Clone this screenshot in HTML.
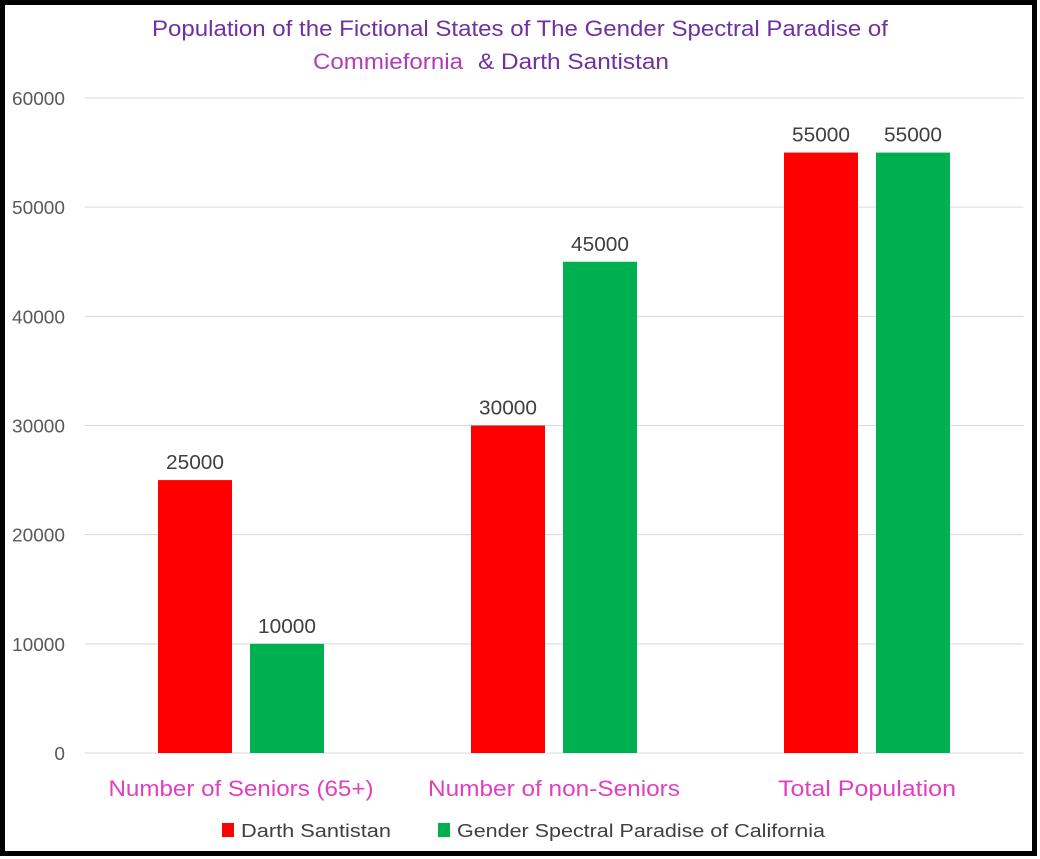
<!DOCTYPE html>
<html><head><meta charset="utf-8"><style>
html,body{margin:0;padding:0;background:#fff}
svg{display:block;font-family:"Liberation Sans",sans-serif}
</style></head><body>
<svg id="chart" width="1040" height="859" viewBox="0 0 1040 859">
<rect x="2.5" y="2.5" width="1032" height="851" fill="#fff" stroke="#000" stroke-width="5"/>
<text x="152" y="36" font-size="22" fill="#7030a0" textLength="736" lengthAdjust="spacingAndGlyphs">Population of the Fictional States of The Gender Spectral Paradise of</text>
<text x="313" y="69" font-size="22" fill="#b03cb8" textLength="150" lengthAdjust="spacingAndGlyphs">Commiefornia</text>
<text x="478" y="69" font-size="22" fill="#7030a0" textLength="191" lengthAdjust="spacingAndGlyphs">&amp; Darth Santistan</text>
<g id="grid"></g><g id="bars"></g><g id="labels"></g>
<g>
<rect x="222" y="823" width="12" height="14" fill="#ff0000"/>
<text x="241" y="837" font-size="18" fill="#404040" textLength="150" lengthAdjust="spacingAndGlyphs">Darth Santistan</text>
<rect x="438" y="823" width="12" height="14" fill="#00b050"/>
<text x="457" y="837" font-size="18" fill="#404040" textLength="368" lengthAdjust="spacingAndGlyphs">Gender Spectral Paradise of California</text>
</g>
</svg>
<script>
const categories=["Number of Seniors (65+)","Number of non-Seniors","Total Population"];
const darthValues=[25000,30000,55000];
const californiaValues=[10000,45000,55000];
const yTicks=[0,10000,20000,30000,40000,50000,60000];
const catLabelWidths=[265,252,178];
const NS="http://www.w3.org/2000/svg";
const x0=84.5,x1=1023.5,y0=753,yTop=98,yMax=60000;
const y=v=>y0-(v/yMax)*(y0-yTop);
const bw=(x1-x0)/categories.length;
const xc=i=>x0+bw*(i+0.5);
function mk(tag,attrs,parent,txt){const e=document.createElementNS(NS,tag);for(const k in attrs)e.setAttribute(k,attrs[k]);if(txt!==undefined)e.textContent=txt;parent.appendChild(e);return e;}
const grid=document.getElementById('grid'),bars=document.getElementById('bars'),labels=document.getElementById('labels');
yTicks.forEach(t=>{
 const l=mk('line',{x1:x0,x2:x1,y1:y(t),y2:y(t),stroke:'#d9d9d9','stroke-width':1},grid);
 
 
 const s=String(t);
 const w=s.length*10.6;
 const tx=mk('text',{x:65-w,y:y(t)+7,'font-size':18,fill:'#595959',textLength:w,lengthAdjust:'spacingAndGlyphs'},grid,s);
 
 
});
const series=[{vals:darthValues,color:'#ff0000',off:-83,name:'darth'},{vals:californiaValues,color:'#00b050',off:9,name:'california'}];
categories.forEach((c,i)=>{
 series.forEach(s=>{
  const v=s.vals[i],bx=xc(i)+s.off;
  const r=mk('rect',{x:bx,y:y(v),width:74,height:y0-y(v),fill:s.color},bars);
  
  
  const t=mk('text',{x:bx+37-29,y:y(v)-11,'font-size':20,fill:'#404040',textLength:58,lengthAdjust:'spacingAndGlyphs'},labels,String(v));
  
  
 });
 const w=catLabelWidths[i];
 const ct=mk('text',{x:xc(i)-w/2,y:796,'font-size':22,fill:'#e040c0',textLength:w,lengthAdjust:'spacingAndGlyphs'},labels,c);
 
 
});
const ax=mk('line',{x1:x0,x2:x1,y1:y0,y2:y0,stroke:'#d9d9d9','stroke-width':1},grid);


</script>
</body></html>
